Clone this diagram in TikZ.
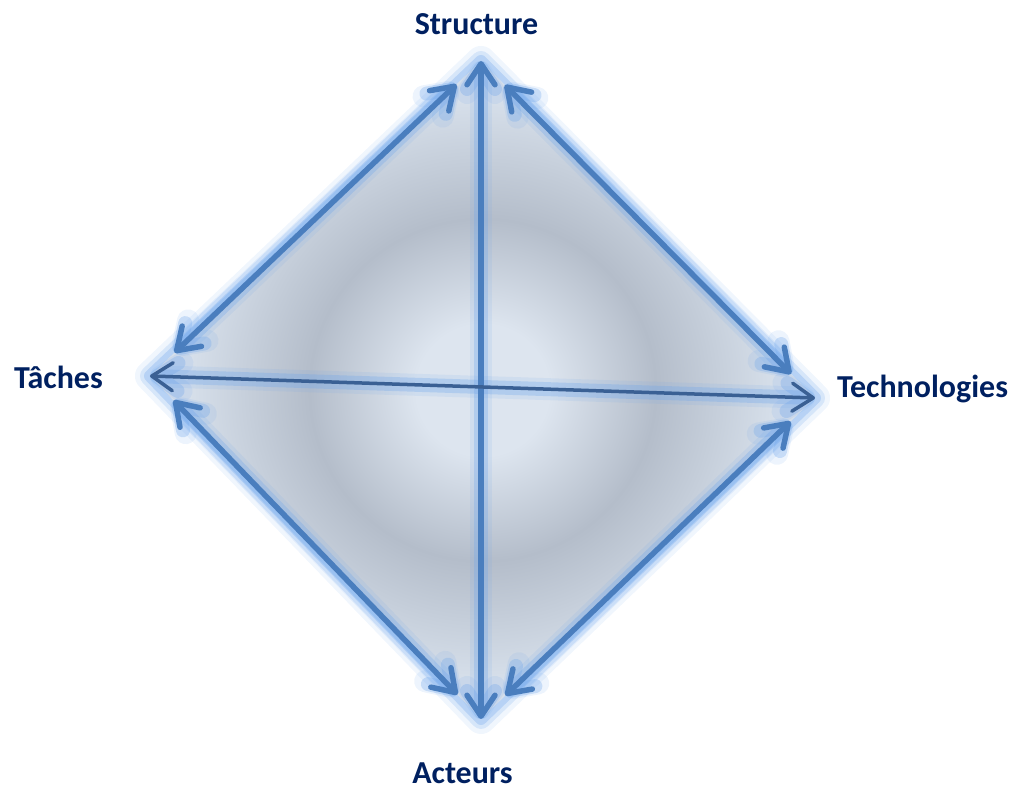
\documentclass[tikz,border=0pt]{standalone}
\usepackage{fontspec}
\setmainfont{Carlito}
\usepackage{tikz}
\usepackage{xcolor}
\usetikzlibrary{arrows.meta}
\definecolor{poleblue}{RGB}{0,32,96}
\definecolor{arrowblue}{RGB}{74,126,190}
\definecolor{axisblue}{RGB}{58,96,148}
\definecolor{glowblue}{RGB}{110,165,235}
\definecolor{shadecenter}{RGB}{221,229,239}
\definecolor{shadering}{RGB}{180,189,202}
\definecolor{shadeedge}{RGB}{214,223,234}
\pgfdeclareradialshading{diamondfill}{\pgfpoint{0bp}{0bp}}{color(0bp)=(shadecenter); color(5bp)=(shadecenter); color(13bp)=(shadering); color(22bp)=(shadeedge); color(50bp)=(shadeedge)}

\begin{document}
\begin{tikzpicture}[
  pole/.style={poleblue,font=\fontsize{9.1}{11}\selectfont\bfseries,anchor=base},
  twoway/.style={arrowblue,line width=0.055cm,line cap=round,line join=round,{Straight Barb[length=0.21cm,width=0.28cm,round]}-{Straight Barb[length=0.21cm,width=0.28cm,round]}},
  sidearrow/.style={twoway,shorten <=0.34cm,shorten >=0.34cm},
  axisarrow/.style={twoway,axisblue,line width=0.035cm},
  haze/.style={glowblue,line width=0.14cm,opacity=0.3},
  softhaze/.style={glowblue,line width=0.22cm,opacity=0.12},
  outerglow/.style={glowblue,line cap=round,line join=round}]
\useasboundingbox (-4.81,-4.00) rectangle (5.38,3.89);
%vertices
\coordinate (S) at (0,3.28);
\coordinate (T) at (-3.31,0.13);
\coordinate (R) at (3.34,-0.09);
\coordinate (A) at (0,-3.30);
%labels
\node[pole] (structure) at (-0.045,3.545) {Structure};
\node[pole] (taches) at (-4.225,0) {Tâches};
\node[pole] (techno) at (4.415,-0.09) {Technologies};
\node[pole] (acteurs) at (-0.185,-3.945) {Acteurs};
%glow and fill
\draw[outerglow,line width=0.3cm,opacity=0.1] (S) -- (T) -- (A) -- (R) -- cycle;
\draw[outerglow,line width=0.2cm,opacity=0.2] (S) -- (T) -- (A) -- (R) -- cycle;
\draw[outerglow,line width=0.12cm,opacity=0.3] (S) -- (T) -- (A) -- (R) -- cycle;
\shade[shading=diamondfill] (S) -- (T) -- (A) -- (R) -- cycle;
%arrows
\draw[sidearrow,softhaze] (S) -- (T);
\draw[sidearrow,softhaze] (S) -- (R);
\draw[sidearrow,softhaze] (T) -- (A);
\draw[sidearrow,softhaze] (R) -- (A);
\draw[twoway,softhaze] (S) -- (A);
\draw[axisarrow,softhaze] (T) -- (R);
\draw[sidearrow,haze] (S) -- (T);
\draw[sidearrow,haze] (S) -- (R);
\draw[sidearrow,haze] (T) -- (A);
\draw[sidearrow,haze] (R) -- (A);
\draw[twoway,haze] (S) -- (A);
\draw[axisarrow,haze] (T) -- (R);
\draw[sidearrow] (S) -- (T);
\draw[sidearrow] (S) -- (R);
\draw[sidearrow] (T) -- (A);
\draw[sidearrow] (R) -- (A);
\draw[twoway] (S) -- (A);
\draw[axisarrow] (T) -- (R);
\end{tikzpicture}
\end{document}
